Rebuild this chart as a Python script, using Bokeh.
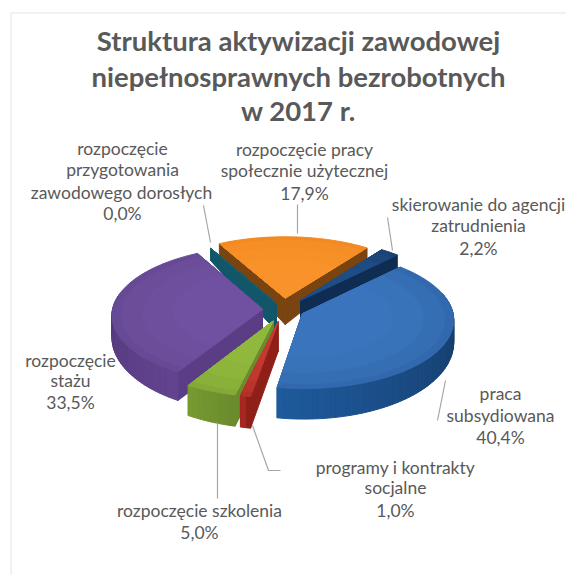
import math
from bokeh.plotting import figure
from bokeh.models import Range1d
from bokeh.core.properties import value
from bokeh.embed import file_html
from bokeh.resources import INLINE

# ---- data ----
categories = ["praca subsydiowana", "programy i kontrakty socjalne", "rozpoczęcie szkolenia", "rozpoczęcie stażu",
              "rozpoczęcie przygotowania zawodowego dorosłych", "rozpoczęcie pracy społecznie użytecznej",
              "skierowanie do agencji zatrudnienia"]
shares = [40.4, 1.0, 5.0, 33.5, 0.0, 17.9, 2.2]
pct_labels = ["40,4%", "1,0%", "5,0%", "33,5%", "0,0%", "17,9%", "2,2%"]
title_lines = ["Struktura aktywizacji zawodowej", "niepełnosprawnych bezrobotnych", "w 2017 r."]

# ---- style ----
explode = [0.14, 0.18, 0.18, 0.14, 0.10, 0.17, 0.18]
top_center = ["#3A74BC", "#C43A30", "#8FB83C", "#7050A0", "#17606F", "#F9922A", "#1F4E86"]
top_rim = ["#3269AE", "#B0302A", "#84AA36", "#674A96", "#17606F", "#F28A22", "#1A4272"]
wall_a = ["#112B50", "#8E2019", "#6B8B2C", "#46306C", "#12505F", "#C56A12", "#0F2D52"]
wall_b = ["#1E5A9C", "#A8281F", "#769A32", "#62438E", "#12505F", "#C56A12", "#0F2D52"]
face_c = ["#1B4F8A", "#8E2019", "#6B8B2C", "#5A3D85", "#12566A", "#7A4410", "#0F2D52"]
draw_order = [5, 4, 6, 3, 0, 2, 1]
CX, CY, RX, RY, P = 283, 309, 150, 68, 0.08
START = 44.0
GREY = "#595959"


def project(X, Y, r=1.0, drop=False):
    s = 1 / (1 + P * Y)
    x = CX + RX * X * s
    y = CY - RY * Y * s
    if drop:
        y += 21 - 9 * Y + 7 * (1 - r)
    return x, y


def lerp(c1, c2, t):
    a = [int(c1[i:i + 2], 16) for i in (1, 3, 5)]
    b = [int(c2[i:i + 2], 16) for i in (1, 3, 5)]
    return "#%02x%02x%02x" % tuple(round(u + (v - u) * t) for u, v in zip(a, b))


def rim(apex, th, r=1.0):
    t = math.radians(th)
    return apex[0] + r * math.sin(t), apex[1] + r * math.cos(t)


xs, ys, cols = [], [], []


def add(points, colour):
    xs.append([q[0] for q in points])
    ys.append([q[1] for q in points])
    cols.append(colour)


edges = [START]
for v in shares:
    edges.append(edges[-1] + v * 3.6)

for i in draw_order:
    a0, a1 = edges[i], edges[i + 1]
    mid = math.radians((a0 + a1) / 2)
    apex = (explode[i] * math.sin(mid), explode[i] * math.cos(mid))
    n = max(2, int((a1 - a0) / 2))
    angs = [a0 + (a1 - a0) * j / n for j in range(n + 1)]
    # radial faces
    for th in (a0, a1):
        e = rim(apex, th)
        add([project(*apex), project(*e), project(*e, drop=True), project(*apex, r=0, drop=True)],
            face_c[i])
    # outer wall, shaded along the arc
    for j in range(n):
        u, w = rim(apex, angs[j]), rim(apex, angs[j + 1])
        if u[1] + w[1] > 0.45:
            continue
        t = j / max(1, n - 1) if a1 - a0 > 0 else 0
        if i == 3:
            t = 1 - t
        add([project(*u), project(*w), project(*w, drop=True), project(*u, drop=True)],
            lerp(wall_a[i], wall_b[i], t))
    # top surface in nested bands
    for band, f in zip((1.0, 0.94, 0.8, 0.6), (0, 0.45, 0.8, 1)):
        add([project(*apex)] + [project(*rim(apex, th, band)) for th in angs],
            lerp(top_rim[i], top_center[i], f))

p = figure(width=566, height=575, x_range=Range1d(0, 566), y_range=Range1d(575, 0),
           output_backend="svg", toolbar_location=None, min_border=0,
           background_fill_color="white", border_fill_color="white", outline_line_color=None)
p.axis.visible = False
p.grid.visible = False

# faint panel frame
p.line([10.5, 10.5, 566], [575, 12.5, 12.5], line_color="#EDEDED", line_width=1.5)

p.patches(xs, ys, fill_color=cols, line_color=cols, line_width=1.0)

# leader lines
leaders = [([297, 297], [204, 233]), ([387, 392], [217, 250]), ([203, 210], [205, 242]),
           ([445, 437], [380, 420]), ([252, 268, 280], [425, 470, 470]), ([217, 217], [422, 498])]
for lx, ly in leaders:
    p.line(lx, ly, line_color="#A6A6A6", line_width=1.2)

# title
for t, y in zip(title_lines, (40, 76, 110)):
    p.text([298], [y], text=[t], text_font=value("Lato"), text_font_style="bold", text_font_size="27.5px",
           text_color=GREY, text_align="center", text_baseline="middle")

# data labels
labels = [
    (500, 393, "praca"), (500, 415, "subsydiowana"), (500, 437, pct_labels[0]),
    (395, 467, "programy i kontrakty"), (395, 487, "socjalne"), (395, 510, pct_labels[1]),
    (199, 510, "rozpoczęcie szkolenia"), (199, 532, pct_labels[2]),
    (70, 360, "rozpoczęcie"), (70, 380, "stażu"), (70, 402, pct_labels[3]),
    (122, 148, "rozpoczęcie"), (122, 169, "przygotowania"), (121, 192, "zawodowego dorosłych"), (122, 213, pct_labels[4]),
    (304, 149, "rozpoczęcie pracy"), (304, 170, "społecznie użytecznej"), (304, 193, pct_labels[5]),
    (478, 204, "skierowanie do agencji"), (478, 225, "zatrudnienia"), (478, 248, pct_labels[6]),
]
p.text([q[0] for q in labels], [q[1] for q in labels], text=[q[2] for q in labels],
       text_font=value("Lato"), text_font_size="17.5px", text_color=GREY,
       text_align="center", text_baseline="middle")

open("out.html", "w").write(file_html(p, INLINE))
